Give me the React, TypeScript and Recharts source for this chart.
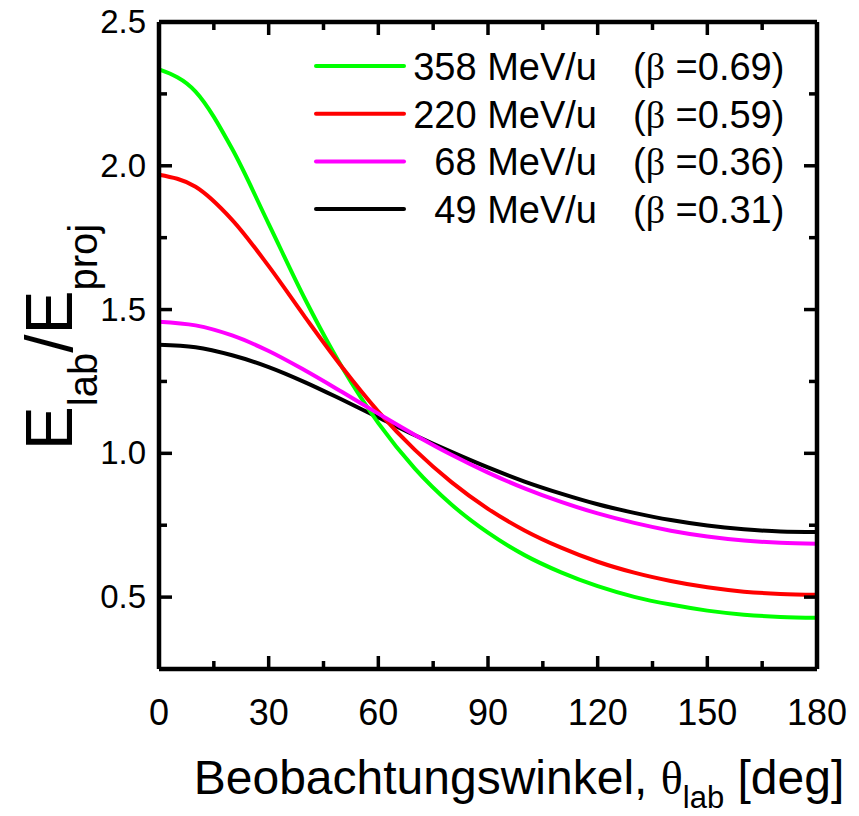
import React from "react";
import { Legend, Line, LineChart, XAxis, YAxis } from "recharts";

// Lab-frame energy ratio vs. observation angle for four beam energies.
const THETA = [0, 10, 20, 30, 40, 50, 60, 70, 80, 90, 100, 110, 120, 130, 140, 150, 160, 170, 180];
const E_358 = [2.335, 2.258, 2.059, 1.798, 1.535, 1.301, 1.105, 0.947, 0.822, 0.724, 0.646, 0.586, 0.538, 0.501, 0.474, 0.453, 0.439, 0.431, 0.428];
const E_220 = [1.969, 1.927, 1.812, 1.651, 1.473, 1.301, 1.145, 1.012, 0.9, 0.807, 0.732, 0.672, 0.623, 0.585, 0.556, 0.534, 0.519, 0.511, 0.508];
const E_68 = [1.458, 1.445, 1.41, 1.356, 1.288, 1.214, 1.138, 1.064, 0.995, 0.933, 0.878, 0.831, 0.791, 0.758, 0.731, 0.711, 0.697, 0.689, 0.686];
const E_49 = [1.378, 1.369, 1.341, 1.3, 1.247, 1.187, 1.125, 1.063, 1.005, 0.951, 0.902, 0.86, 0.823, 0.793, 0.768, 0.749, 0.736, 0.728, 0.726];

const X_TICKS = [0, 15, 30, 45, 60, 75, 90, 105, 120, 135, 150, 165, 180];
const X_LABELS = [0, 30, 60, 90, 120, 150, 180];
const Y_TICKS = [0.25, 0.5, 0.75, 1.0, 1.25, 1.5, 1.75, 2.0, 2.25, 2.5];
const Y_LABELS = [0.5, 1.0, 1.5, 2.0, 2.5];

const SERIES = [
  { key: "e358", color: "#00ff00", energy: "358 MeV/u", beta: "0.69", values: E_358 },
  { key: "e220", color: "#ff0000", energy: "220 MeV/u", beta: "0.59", values: E_220 },
  { key: "e68", color: "#ff00ff", energy: "68 MeV/u", beta: "0.36", values: E_68 },
  { key: "e49", color: "#000000", energy: "49 MeV/u", beta: "0.31", values: E_49 },
];

const data = THETA.map((t, i) => {
  const row: Record<string, number> = { theta: t };
  for (const s of SERIES) row[s.key] = s.values[i];
  return row;
});

const SANS = "Arial, 'Liberation Sans', Helvetica, sans-serif";
const SERIF = "'Times New Roman', 'Liberation Serif', serif";
const AXIS_W = 4.5;
const TICK_W = 3.5;
const MAJOR = 13;
const MINOR = 8;

type TickProps = { x: number; y: number; payload: { value: number } };

function BottomTick({ x, y, payload }: TickProps) {
  const major = X_LABELS.includes(payload.value);
  return (
    <g>
      <line x1={x} y1={y} x2={x} y2={y - (major ? MAJOR : MINOR)} stroke="#000" strokeWidth={TICK_W} />
      {major && (
        <text x={x} y={y + 56} textAnchor="middle" fontFamily={SANS} fontSize={36} fill="#000">
          {payload.value}
        </text>
      )}
    </g>
  );
}

function TopTick({ x, y, payload }: TickProps) {
  const major = X_LABELS.includes(payload.value);
  return <line x1={x} y1={y} x2={x} y2={y + (major ? MAJOR : MINOR)} stroke="#000" strokeWidth={TICK_W} />;
}

function LeftTick({ x, y, payload }: TickProps) {
  const major = Y_LABELS.includes(payload.value);
  return (
    <g>
      <line x1={x} y1={y} x2={x + (major ? MAJOR : MINOR)} y2={y} stroke="#000" strokeWidth={TICK_W} />
      {major && (
        <text x={x - 13} y={y + 11} textAnchor="end" fontFamily={SANS} fontSize={33} fill="#000">
          {payload.value.toFixed(1)}
        </text>
      )}
    </g>
  );
}

function RightTick({ x, y, payload }: TickProps) {
  const major = Y_LABELS.includes(payload.value);
  return <line x1={x} y1={y} x2={x - (major ? MAJOR : MINOR)} y2={y} stroke="#000" strokeWidth={TICK_W} />;
}

function YTitle() {
  return (
    <text transform="translate(72,337) rotate(-90)" textAnchor="middle" fontFamily={SANS} fill="#000" fontSize={66}>
      <tspan>E</tspan>
      <tspan fontSize={40} dy={25}>lab</tspan>
      <tspan dy={-25}>/E</tspan>
      <tspan fontSize={40} dy={25}>proj</tspan>
    </text>
  );
}

function XTitle() {
  return (
    <text x={519} y={794} textAnchor="middle" fontFamily={SANS} fill="#000" fontSize={48}>
      <tspan>Beobachtungswinkel, </tspan>
      <tspan fontFamily={SERIF} fontSize={46}>θ</tspan>
      <tspan fontSize={31} dy={14}>lab</tspan>
      <tspan dy={-14}> [deg]</tspan>
    </text>
  );
}

function LegendBox() {
  return (
    <svg width={480} height={200} style={{ display: "block", overflow: "visible" }}>
      {SERIES.map((s, i) => {
        const cy = 26 + i * 47.7;
        return (
          <g key={s.key}>
            <line x1={6} x2={94} y1={cy} y2={cy} stroke={s.color} strokeWidth={4} strokeLinecap="round" />
            <text x={287} y={cy + 14} textAnchor="end" fontFamily={SANS} fontSize={38} fill="#000">
              {s.energy}
            </text>
            <text x={323} y={cy + 14} fontFamily={SANS} fontSize={38} fill="#000">
              (<tspan fontFamily={SERIF}>β</tspan> ={s.beta})
            </text>
          </g>
        );
      })}
    </svg>
  );
}

const axisLine = { stroke: "#000", strokeWidth: AXIS_W };

export default function App() {
  return (
    <div style={{ position: "absolute", left: 0, top: 0, width: 859, height: 816, background: "#fff" }}>
      <LineChart width={859} height={816} data={data} margin={{ top: 21, right: 41, bottom: 146, left: 158 }}>
        <XAxis
          dataKey="theta"
          type="number"
          domain={[0, 180]}
          ticks={X_TICKS}
          interval={0}
          height={1}
          tickSize={0}
          tickMargin={0}
          tickLine={false}
          axisLine={axisLine}
          tick={BottomTick}
          label={{ content: () => <XTitle /> }}
        />
        <XAxis
          xAxisId="top"
          orientation="top"
          dataKey="theta"
          type="number"
          domain={[0, 180]}
          ticks={X_TICKS}
          interval={0}
          height={1}
          tickSize={0}
          tickMargin={0}
          tickLine={false}
          axisLine={axisLine}
          tick={TopTick}
        />
        <YAxis
          type="number"
          domain={[0.25, 2.5]}
          ticks={Y_TICKS}
          interval={0}
          width={1}
          tickSize={0}
          tickMargin={0}
          tickLine={false}
          allowDataOverflow
          axisLine={axisLine}
          tick={LeftTick}
          label={{ content: () => <YTitle /> }}
        />
        <YAxis
          yAxisId="right"
          orientation="right"
          type="number"
          domain={[0.25, 2.5]}
          ticks={Y_TICKS}
          interval={0}
          width={1}
          tickSize={0}
          tickMargin={0}
          tickLine={false}
          allowDataOverflow
          axisLine={axisLine}
          tick={RightTick}
        />
        {/* zero-size wrapper so the legend floats over the plot without shrinking it */}
        <Legend
          content={() => <LegendBox />}
          wrapperStyle={{ position: "absolute", left: 310, top: 40, width: 0, height: 0, overflow: "visible" }}
        />
        {[SERIES[3], SERIES[0], SERIES[1], SERIES[2]].map((s) => (
          <Line
            key={s.key}
            dataKey={s.key}
            type="monotone"
            stroke={s.color}
            strokeWidth={4}
            dot={false}
            activeDot={false}
            isAnimationActive={false}
          />
        ))}
      </LineChart>
    </div>
  );
}
